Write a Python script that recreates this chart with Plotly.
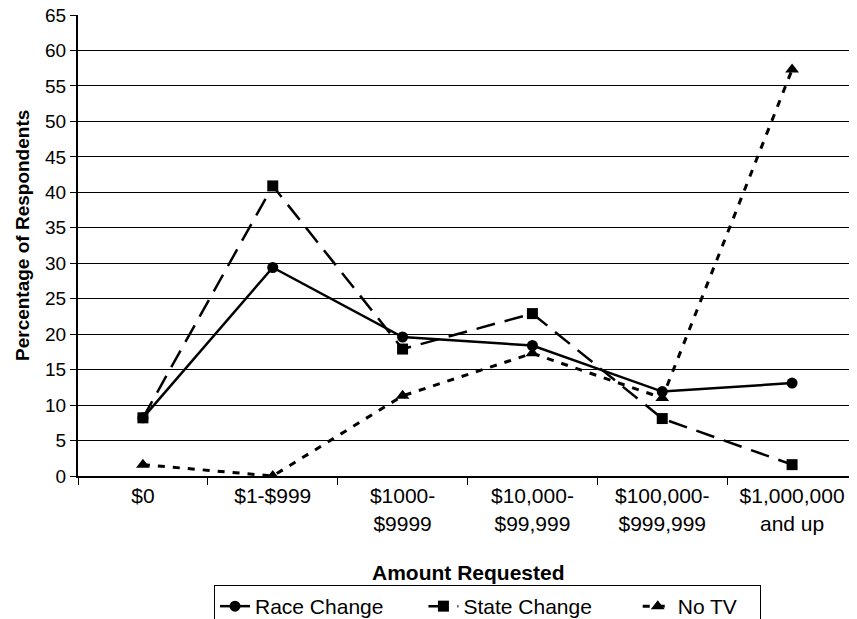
import plotly.graph_objects as go

categories = ["$0", "$1-$999", "$1000-<br>$9999", "$10,000-<br>$99,999",
              "$100,000-<br>$999,999", "$1,000,000<br>and up"]
race_change = [8.2, 29.4, 19.6, 18.4, 11.9, 13.1]
state_change = [8.2, 40.9, 17.9, 22.9, 8.1, 1.6]
no_tv = [1.6, 0.0, 11.3, 17.3, 11.0, 57.3]
y_ticks = list(range(0, 70, 5))
series_names = ["Race Change", "State Change", "No TV"]

FONT = "Liberation Sans, Arial, Helvetica, sans-serif"
OFF = 8  # default page body margin
W, H = 857 - OFF, 619 - OFF
# plot area in page pixels: left 78, top 15, bottom 476, right 857
ML, MR, MT = 78 - OFF, 0, 15 - OFF
MB = H - (476 - OFF)
PW, PH = W - ML - MR, H - MT - MB

def px_x(p):  # page pixel -> paper
    return (p - OFF - ML) / PW

def px_y(p):
    return (H - MB - (p - OFF)) / PH

NB = "\u00a0"
fig = go.Figure()
fig.add_trace(go.Scatter(
    x=categories, y=no_tv, name=series_names[2] + NB * 3, mode="lines+markers",
    line=dict(color="black", width=3, dash="7px,8px"),
    marker=dict(symbol="triangle-up", size=12, color="black"),
    legendrank=3))
fig.add_trace(go.Scatter(
    x=categories, y=state_change, name=series_names[1] + NB * 7, mode="lines+markers",
    line=dict(color="black", width=2.5, dash="19px,10px"),
    marker=dict(symbol="square", size=11, color="black"),
    legendrank=2))
fig.add_trace(go.Scatter(
    x=categories, y=race_change, name=series_names[0] + NB * 6, mode="lines+markers",
    line=dict(color="black", width=2.5),
    marker=dict(symbol="circle", size=11, color="black"),
    legendrank=1))

fig.update_layout(
    width=W, height=H,
    margin=dict(l=ML, r=MR, t=MT, b=MB, autoexpand=False),
    paper_bgcolor="white", plot_bgcolor="white",
    font=dict(family=FONT, size=21, color="black"),
    showlegend=True,
    legend=dict(orientation="h", x=px_x(214), xanchor="left",
                y=px_y(585), yanchor="top",
                bordercolor="black", borderwidth=1,
                font=dict(size=21), traceorder="normal"),
    xaxis=dict(
        type="category", range=[-0.5, 5.5], automargin=False,
        showline=True, linecolor="black", linewidth=2,
        ticks="outside", tickson="boundaries", ticklen=7,
        tickcolor="black", tickwidth=1,
        showgrid=False, zeroline=False,
        tickfont=dict(size=21)),
    yaxis=dict(
        range=[0, 65], tickvals=y_ticks, ticktext=[str(v) for v in y_ticks],
        automargin=False, ticklabeloverflow="allow",
        showline=True, linecolor="black", linewidth=2,
        ticks="outside", ticklen=6, tickcolor="black", tickwidth=1,
        showgrid=True, gridcolor="black", gridwidth=1,
        zeroline=False, tickfont=dict(size=19)),
    annotations=[
        dict(text="<b>Amount Requested</b>", xref="paper", yref="paper",
             x=px_x(468), y=px_y(572), xanchor="center", yanchor="middle",
             showarrow=False, font=dict(size=21)),
        dict(text="<b>Percentage of Respondents</b>", xref="paper", yref="paper",
             x=px_x(22), y=px_y(236), xanchor="center", yanchor="middle",
             textangle=-90, showarrow=False, font=dict(size=19)),
    ],
)

fig.write_html("out.html")
